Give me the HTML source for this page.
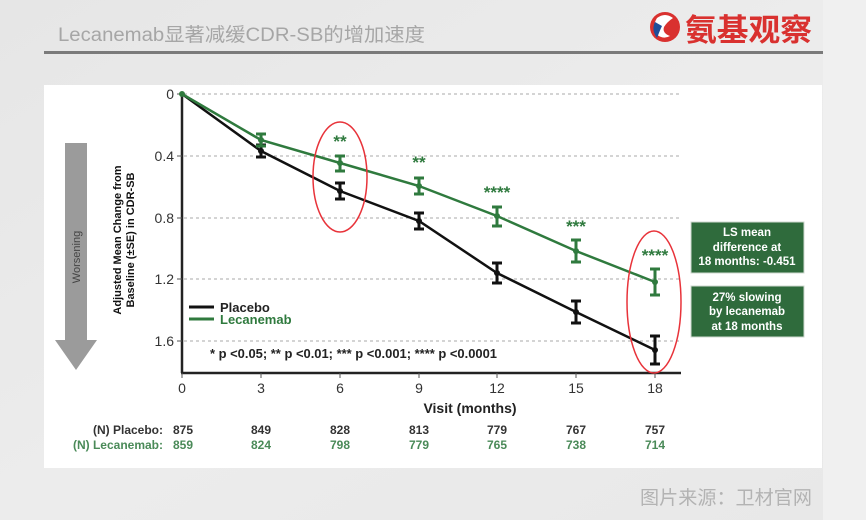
<!DOCTYPE html>
<html>
<head>
<meta charset="utf-8">
<style>
html,body{margin:0;padding:0;}
body{width:866px;height:520px;overflow:hidden;background:#ebebeb;font-family:"Liberation Sans","Noto Sans CJK SC",sans-serif;}
svg{display:block;}
</style>
</head>
<body>
<svg width="866" height="520" viewBox="0 0 866 520" xmlns="http://www.w3.org/2000/svg" font-family="Liberation Sans, Noto Sans CJK SC, sans-serif">
  <defs>
    <linearGradient id="bg" x1="0" y1="0" x2="1" y2="1">
      <stop offset="0" stop-color="#e6e6e6"/>
      <stop offset="0.5" stop-color="#ececec"/>
      <stop offset="1" stop-color="#e8e8e8"/>
    </linearGradient>
  </defs>
  <rect x="0" y="0" width="866" height="520" fill="url(#bg)"/>
  <rect x="823" y="0" width="43" height="520" fill="#f0f0f0"/>

  <!-- Title -->
  <text x="58" y="41" font-size="19" fill="#a6a6a6" textLength="367" lengthAdjust="spacingAndGlyphs">Lecanemab显著减缓CDR-SB的增加速度</text>
  <rect x="44" y="51" width="779" height="3" fill="#7a7a7a"/>

  <!-- Logo -->
  <circle cx="665" cy="27" r="15" fill="#d9312f"/>
  <path d="M657 18 Q665 12 673 18 Q667 22 664 27 Q662 33 670 36 Q663 40 656 34 Q652 26 657 18Z" fill="#ffffff"/>
  <path d="M655 22 Q651 30 657 38 Q660 30 662 26Z" fill="#1f4e9a"/>
  <text x="685" y="41" font-size="31" font-weight="bold" fill="#d9312f" font-family="Noto Sans CJK SC, sans-serif" textLength="127" lengthAdjust="spacingAndGlyphs">氨基观察</text>

  <!-- White panel -->
  <rect x="44" y="85" width="778" height="383" fill="#ffffff"/>

  <!-- Worsening arrow -->
  <polygon points="65,143 87,143 87,340 97,340 76,370 55,340 65,340" fill="#9b9b9b"/>
  <text transform="translate(80,257) rotate(-90)" text-anchor="middle" font-size="11" fill="#444">Worsening</text>

  <!-- Y axis label -->
  <text transform="translate(121,240) rotate(-90)" text-anchor="middle" font-size="11" font-weight="bold" fill="#111">Adjusted Mean Change from</text>
  <text transform="translate(134,240) rotate(-90)" text-anchor="middle" font-size="11" font-weight="bold" fill="#111">Baseline (±SE) in CDR-SB</text>

  <!-- Gridlines -->
  <g stroke="#a8a8a8" stroke-width="1" stroke-dasharray="3,3">
    <line x1="184" y1="94" x2="680" y2="94"/>
    <line x1="184" y1="156" x2="680" y2="156"/>
    <line x1="184" y1="218" x2="680" y2="218"/>
    <line x1="184" y1="279" x2="680" y2="279"/>
    <line x1="184" y1="341" x2="680" y2="341"/>
  </g>

  <!-- Axes -->
  <g stroke="#222" stroke-width="2.5" fill="none">
    <line x1="182" y1="93" x2="182" y2="373"/>
    <line x1="181" y1="373" x2="681" y2="373"/>
  </g>
  <g stroke="#555" stroke-width="1">
    <line x1="177" y1="94" x2="182" y2="94"/>
    <line x1="177" y1="156" x2="182" y2="156"/>
    <line x1="177" y1="218" x2="182" y2="218"/>
    <line x1="177" y1="279" x2="182" y2="279"/>
    <line x1="177" y1="341" x2="182" y2="341"/>
    <line x1="182" y1="373" x2="182" y2="378"/>
    <line x1="261" y1="373" x2="261" y2="378"/>
    <line x1="340" y1="373" x2="340" y2="378"/>
    <line x1="419" y1="373" x2="419" y2="378"/>
    <line x1="497" y1="373" x2="497" y2="378"/>
    <line x1="576" y1="373" x2="576" y2="378"/>
    <line x1="655" y1="373" x2="655" y2="378"/>
  </g>

  <!-- Y tick labels -->
  <g font-size="14" fill="#333" text-anchor="end">
    <text x="174" y="99">0</text>
    <text x="174" y="161">0.4</text>
    <text x="174" y="223">0.8</text>
    <text x="174" y="284">1.2</text>
    <text x="174" y="346">1.6</text>
  </g>

  <!-- X tick labels -->
  <g font-size="14" fill="#333" text-anchor="middle">
    <text x="182" y="393">0</text>
    <text x="261" y="393">3</text>
    <text x="340" y="393">6</text>
    <text x="419" y="393">9</text>
    <text x="497" y="393">12</text>
    <text x="576" y="393">15</text>
    <text x="655" y="393">18</text>
  </g>
  <text x="470" y="413" font-size="14" font-weight="bold" fill="#222" text-anchor="middle">Visit (months)</text>

  <!-- Placebo series -->
  <polyline points="182,94 261,151 340,191 419,221 497,273 576,312 655,350" fill="none" stroke="#111" stroke-width="2.5"/>
  <g stroke="#111" stroke-width="3" fill="none">
    <path d="M261,145 V157 M256,145 H266 M256,157 H266"/>
    <path d="M340,183 V199 M335,183 H345 M335,199 H345"/>
    <path d="M419,213 V229 M414,213 H424 M414,229 H424"/>
    <path d="M497,263 V283 M492,263 H502 M492,283 H502"/>
    <path d="M576,301 V323 M571,301 H581 M571,323 H581"/>
    <path d="M655,336 V364 M650,336 H660 M650,364 H660"/>
  </g>
  <g fill="#111">
    <circle cx="261" cy="151" r="3"/><circle cx="340" cy="191" r="3"/><circle cx="419" cy="221" r="3"/>
    <circle cx="497" cy="273" r="3"/><circle cx="576" cy="312" r="3"/><circle cx="655" cy="350" r="3"/>
  </g>

  <!-- Lecanemab series -->
  <polyline points="182,94 261,140 340,163 419,186 497,216 576,251 655,282" fill="none" stroke="#2f7a3e" stroke-width="2.5"/>
  <g stroke="#2f7a3e" stroke-width="3" fill="none">
    <path d="M261,134 V146 M256,134 H266 M256,146 H266"/>
    <path d="M340,156 V171 M335,156 H345 M335,171 H345"/>
    <path d="M419,178 V194 M414,178 H424 M414,194 H424"/>
    <path d="M497,207 V226 M492,207 H502 M492,226 H502"/>
    <path d="M576,240 V262 M571,240 H581 M571,262 H581"/>
    <path d="M655,269 V295 M650,269 H660 M650,295 H660"/>
  </g>
  <g fill="#2f7a3e">
    <circle cx="182" cy="94" r="3"/>
    <circle cx="261" cy="140" r="3"/><circle cx="340" cy="163" r="3"/><circle cx="419" cy="186" r="3"/>
    <circle cx="497" cy="216" r="3"/><circle cx="576" cy="251" r="3"/><circle cx="655" cy="282" r="3"/>
  </g>

  <!-- Significance stars -->
  <g font-size="17" font-weight="bold" fill="#2f7a3e" text-anchor="middle">
    <text x="340" y="147">**</text>
    <text x="419" y="168">**</text>
    <text x="497" y="198">****</text>
    <text x="576" y="232">***</text>
    <text x="655" y="261">****</text>
  </g>

  <!-- Red ellipses -->
  <g fill="none" stroke="#e8333a" stroke-width="1.5">
    <ellipse cx="340" cy="177" rx="27" ry="55"/>
    <ellipse cx="654" cy="302" rx="27" ry="71"/>
  </g>

  <!-- Legend -->
  <line x1="189" y1="307" x2="214" y2="307" stroke="#111" stroke-width="3"/>
  <text x="220" y="312" font-size="13" font-weight="bold" fill="#222">Placebo</text>
  <line x1="189" y1="319" x2="214" y2="319" stroke="#2f7a3e" stroke-width="3"/>
  <text x="220" y="324" font-size="13" font-weight="bold" fill="#2f7a3e">Lecanemab</text>

  <!-- Footnote -->
  <text x="210" y="358" font-size="12.5" font-weight="bold" fill="#222" textLength="287" lengthAdjust="spacingAndGlyphs">* p &lt;0.05; ** p &lt;0.01; *** p &lt;0.001; **** p &lt;0.0001</text>

  <!-- Info boxes -->
  <rect x="691" y="222" width="113" height="51" fill="#2f6b3c" stroke="#cfd8cf" stroke-width="1"/>
  <g font-size="11.5" font-weight="bold" fill="#ffffff" text-anchor="middle">
    <text x="747" y="236">LS mean</text>
    <text x="747" y="251">difference at</text>
    <text x="747" y="265">18 months: -0.451</text>
  </g>
  <rect x="691" y="286" width="113" height="51" fill="#2f6b3c" stroke="#cfd8cf" stroke-width="1"/>
  <g font-size="11.5" font-weight="bold" fill="#ffffff" text-anchor="middle">
    <text x="747" y="301">27% slowing</text>
    <text x="747" y="315">by lecanemab</text>
    <text x="747" y="330">at 18 months</text>
  </g>

  <!-- N rows -->
  <g font-size="12" font-weight="bold" fill="#333">
    <text x="163" y="434" text-anchor="end">(N) Placebo:</text>
    <g text-anchor="middle">
      <text x="183" y="434">875</text><text x="261" y="434">849</text><text x="340" y="434">828</text>
      <text x="419" y="434">813</text><text x="497" y="434">779</text><text x="576" y="434">767</text>
      <text x="655" y="434">757</text>
    </g>
  </g>
  <g font-size="12" font-weight="bold" fill="#4a8a58">
    <text x="163" y="449" text-anchor="end">(N) Lecanemab:</text>
    <g text-anchor="middle">
      <text x="183" y="449">859</text><text x="261" y="449">824</text><text x="340" y="449">798</text>
      <text x="419" y="449">779</text><text x="497" y="449">765</text><text x="576" y="449">738</text>
      <text x="655" y="449">714</text>
    </g>
  </g>

  <!-- Source -->
  <text x="640" y="504" font-size="19" fill="#b3b3b3" textLength="172" lengthAdjust="spacingAndGlyphs">图片来源：卫材官网</text>
</svg>
</body>
</html>
